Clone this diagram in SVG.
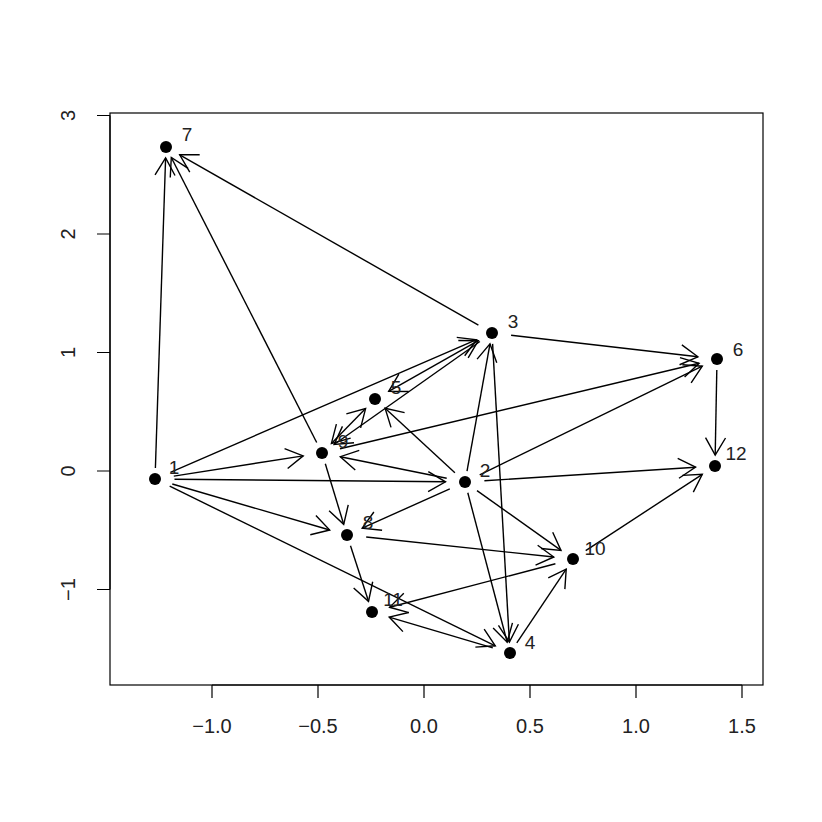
<svg xmlns="http://www.w3.org/2000/svg" width="822" height="822" viewBox="0 0 822 822">
<defs>
<marker id="ah" markerUnits="userSpaceOnUse" markerWidth="40" markerHeight="40" viewBox="-20 -20 40 40" refX="0" refY="0" orient="auto-start-reverse" overflow="visible">
<path d="M-17.3,-10 L0,0 L-17.3,10" fill="none" stroke="#000" stroke-width="1.4"/>
</marker>
<style>
.e{stroke:#000;stroke-width:1.4;fill:none;marker-end:url(#ah)}
.d{marker-start:url(#ah)}
.n{fill:#000}
.t{font-family:"Liberation Sans",Arial,sans-serif;font-size:19px;fill:#222}
.tk{font-family:"Liberation Sans",Arial,sans-serif;font-size:20px;fill:#222}
.ax{stroke:#000;stroke-width:1.2;fill:none}
</style>
</defs>
<rect width="822" height="822" fill="#fff"/>
<g id="axes">
<rect class="ax" x="110" y="113" width="653" height="572"/>
<path class="ax" d="M212,685V698M318,685V698M424,685V698M530,685V698M636,685V698M742,685V698M212,685H742"/>
<path class="ax" d="M110,115.5H97M110,234H97M110,352.5H97M110,471H97M110,589.5H97M110,115.5V589.5"/>
<g class="tk" text-anchor="middle">
<text x="212" y="733">−1.0</text>
<text x="318" y="733">−0.5</text>
<text x="424" y="733">0.0</text>
<text x="530" y="733">0.5</text>
<text x="636" y="733">1.0</text>
<text x="742" y="733">1.5</text>
<text transform="translate(75,115.5) rotate(-90)">3</text>
<text transform="translate(75,234) rotate(-90)">2</text>
<text transform="translate(75,352.5) rotate(-90)">1</text>
<text transform="translate(75,471) rotate(-90)">0</text>
<text transform="translate(75,589.5) rotate(-90)">−1</text>
</g>
</g>
<g id="edges">
<line class="e" x1="155.4" y1="468.1" x2="165.6" y2="157.9"/>
<line class="e" x1="170.4" y1="472.3" x2="476.6" y2="339.7"/>
<line class="e" x1="173.8" y1="476.1" x2="303.2" y2="455.9"/>
<line class="e" x1="174.5" y1="479.2" x2="445.5" y2="481.8"/>
<line class="e" x1="172.3" y1="484.0" x2="329.7" y2="530.0"/>
<line class="e" x1="169.7" y1="486.2" x2="495.3" y2="645.8"/>
<line class="e" x1="467.0" y1="471.2" x2="490.0" y2="343.9"/>
<line class="e" x1="454.9" y1="472.7" x2="385.1" y2="408.3"/>
<line class="e" x1="446.7" y1="478.3" x2="340.3" y2="456.7"/>
<line class="e" x1="449.8" y1="488.8" x2="362.2" y2="528.2"/>
<line class="e" x1="479.7" y1="474.8" x2="702.3" y2="366.2"/>
<line class="e" x1="484.4" y1="480.8" x2="695.6" y2="467.2"/>
<line class="e" x1="477.0" y1="490.6" x2="561.0" y2="550.4"/>
<line class="e" x1="467.8" y1="492.8" x2="507.2" y2="642.2"/>
<line class="e" x1="478.4" y1="325.2" x2="179.7" y2="154.8"/>
<line class="e" x1="511.1" y1="335.2" x2="697.9" y2="356.8"/>
<line class="e d" x1="478.3" y1="340.7" x2="388.7" y2="391.3"/>
<line class="e" x1="479.9" y1="341.5" x2="334.1" y2="444.5"/>
<line class="e" x1="492.6" y1="343.9" x2="509.4" y2="642.1"/>
<line class="e d" x1="365.6" y1="408.6" x2="331.4" y2="443.4"/>
<line class="e" x1="316.7" y1="442.5" x2="171.3" y2="157.5"/>
<line class="e" x1="340.0" y1="448.7" x2="699.1" y2="363.3"/>
<line class="e" x1="325.3" y1="463.8" x2="343.7" y2="524.3"/>
<line class="e" x1="716.8" y1="369.9" x2="715.2" y2="455.1"/>
<line class="e" x1="366.2" y1="537.0" x2="553.8" y2="557.0"/>
<line class="e" x1="350.5" y1="545.7" x2="368.5" y2="601.3"/>
<line class="e" x1="585.7" y1="550.7" x2="702.3" y2="474.3"/>
<line class="e" x1="555.4" y1="563.7" x2="389.6" y2="607.3"/>
<line class="e" x1="516.8" y1="642.8" x2="566.2" y2="569.2"/>
<line class="e" x1="492.8" y1="647.9" x2="389.2" y2="617.1"/>
</g>
<g id="n1"><circle class="n" cx="155" cy="479" r="6"/><text class="t" x="174" y="474" text-anchor="middle">1</text></g>
<g id="n2"><circle class="n" cx="465" cy="482" r="6"/><text class="t" x="485" y="477" text-anchor="middle">2</text></g>
<g id="n3"><circle class="n" cx="492" cy="333" r="6"/><text class="t" x="513" y="328" text-anchor="middle">3</text></g>
<g id="n4"><circle class="n" cx="510" cy="653" r="6"/><text class="t" x="530" y="649" text-anchor="middle">4</text></g>
<g id="n5"><circle class="n" cx="375" cy="399" r="6"/><text class="t" x="396" y="394" text-anchor="middle">5</text></g>
<g id="n6"><circle class="n" cx="717" cy="359" r="6"/><text class="t" x="738" y="356" text-anchor="middle">6</text></g>
<g id="n7"><circle class="n" cx="166" cy="147" r="6"/><text class="t" x="187" y="141" text-anchor="middle">7</text></g>
<g id="n8"><circle class="n" cx="347" cy="535" r="6"/><text class="t" x="368" y="529" text-anchor="middle">8</text></g>
<g id="n9"><circle class="n" cx="322" cy="453" r="6"/><text class="t" x="343" y="448" text-anchor="middle">9</text></g>
<g id="n10"><circle class="n" cx="573" cy="559" r="6"/><text class="t" x="595" y="555" text-anchor="middle">10</text></g>
<g id="n11"><circle class="n" cx="372" cy="612" r="6"/><text class="t" x="393" y="606" text-anchor="middle">11</text></g>
<g id="n12"><circle class="n" cx="715" cy="466" r="6"/><text class="t" x="736" y="460" text-anchor="middle">12</text></g>
</svg>
